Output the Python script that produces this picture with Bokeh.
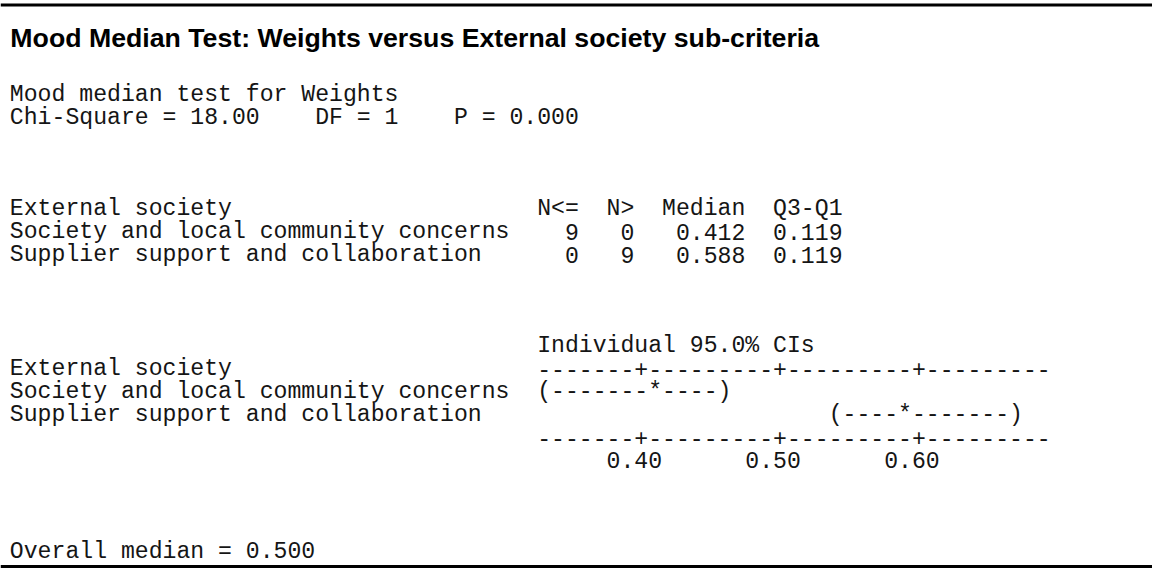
import re
from bokeh.plotting import figure
from bokeh.models import Range1d, ColumnDataSource
from bokeh.core.properties import value
from bokeh.embed import file_html
from bokeh.resources import INLINE

# ---------------- data ----------------
title = "Mood Median Test: Weights versus External society sub-criteria"
response = "Weights"
factor = "External society"
groups = ["Society and local community concerns", "Supplier support and collaboration"]
n_le = [9, 0]
n_gt = [0, 9]
medians = [0.412, 0.588]
q3_q1 = [0.119, 0.119]
ci_low = [0.33, 0.54]
ci_high = [0.46, 0.67]
ci_ticks = [0.40, 0.50, 0.60]
chi_square = 18.00
dof = 1
p_value = 0.000
overall_median = 0.500

# ---------------- character-plot scale (Minitab style) ----------------
axis_start = 0.33      # value at the first ruler character
axis_step = 0.01       # value per character
axis_len = 37          # ruler length in characters


def col(v):
    return int(round((v - axis_start) / axis_step))


name_w = 38
ruler = ["-"] * axis_len
for t in ci_ticks:
    ruler[col(t)] = "+"
ruler = "".join(ruler)

labels = [" "] * (axis_len + 4)
for t in ci_ticks:
    s = f"{t:.2f}"
    c = col(t) - 2
    labels[c:c + len(s)] = list(s)
labels = "".join(labels).rstrip()

ci_rows = []
for g, lo, md, hi in zip(groups, ci_low, medians, ci_high):
    row = [" "] * axis_len
    a, m, b = col(lo), col(md), col(hi)
    for i in range(a + 1, b):
        row[i] = "-"
    row[a] = "("
    row[b] = ")"
    row[m] = "*"
    ci_rows.append(g.ljust(name_w) + "".join(row).rstrip())

# text lines with their line index (blank lines are skipped)
lines = [
    (0, f"Mood median test for {response}"),
    (1, f"Chi-Square = {chi_square:.2f}    DF = {dof}    P = {p_value:.3f}"),
    (5, factor.ljust(name_w) + "N<=  N>  Median  Q3-Q1"),
]
for k, (g, a, b, md, iq) in enumerate(zip(groups, n_le, n_gt, medians, q3_q1)):
    lines.append((6 + k, g.ljust(name_w) + f"{a:3d}{b:4d}{md:8.3f}{iq:7.3f}"))
lines += [
    (11, " " * name_w + "Individual 95.0% CIs"),
    (12, factor.ljust(name_w) + ruler),
    (13, ci_rows[0]),
    (14, ci_rows[1]),
    (15, " " * name_w + ruler),
    (16, " " * name_w + labels),
    (20, f"Overall median = {overall_median:.3f}"),
]

# ---------------- layout ----------------
W, H = 1152, 569
sx, sy = W / 1168, H / 585
cw = 14.07 * sx           # character advance
x0 = 9.5 * sx
dy = -7.0                 # renderer baseline correction
y0 = 104.0 * sy + dy
line_h = 23.5 * sy

xs, ys, ts = [], [], []
for i, line in lines:
    for m in re.finditer(r"\S+(?: \S+)*", line):
        xs.append(x0 + m.start() * cw)
        ys.append(y0 + i * line_h)
        ts.append(m.group())
src = ColumnDataSource(dict(x=xs, y=ys, text=ts))

p = figure(width=W, height=H, x_range=Range1d(0, W), y_range=Range1d(H, 0),
           x_axis_type=None, y_axis_type=None, toolbar_location=None,
           output_backend="svg", min_border=0)
p.outline_line_color = None
p.grid.visible = False
p.background_fill_color = "white"
p.border_fill_color = "white"

p.text(x="x", y="y", text="text", source=src,
       text_font=value("Liberation Mono"), text_font_size=f"{cw / 0.6:.2f}px",
       text_baseline="alphabetic", text_align="left", text_color="#151515")

p.text(x=[10.0 * sx], y=[45.7 * sy + dy], text=[title],
       text_font=value("Liberation Sans"), text_font_size="26.7px",
       text_font_style="bold", text_baseline="alphabetic", text_align="left",
       text_color="#000000")

# frame rules at top and bottom
p.segment(x0=[0, 0], y0=[4.5 * sy, 582 * sy], x1=[W, W], y1=[4.5 * sy, 582 * sy],
          line_color="#000000", line_width=3)

open("out.html", "w").write(file_html(p, INLINE))
